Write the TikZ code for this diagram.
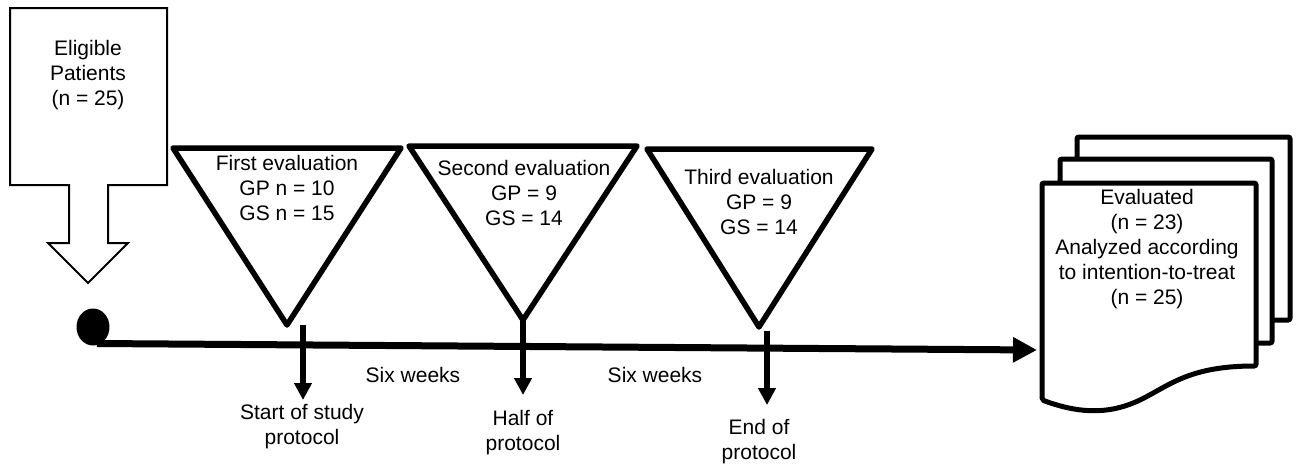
\documentclass[tikz,border=0pt]{standalone}
\usepackage{fontspec}
\setmainfont{Liberation Sans}
\usetikzlibrary{arrows.meta,shapes.geometric}
\begin{document}
\begin{tikzpicture}[x=1pt,y=-1pt,
  txt/.style={font=\fontsize{21}{25}\selectfont, align=center, inner sep=0pt},
  tri/.style={line width=5.5pt, line join=round},
  vline/.style={line width=5.5pt, -{Triangle[width=17pt,length=17pt]}},
  page/.style={line width=5pt, fill=white, rounded corners=2pt}]
\useasboundingbox (0,0) rectangle (1297,463);
% eligible block arrow
\draw[line width=2pt] (10,8) -- (167,8) -- (167,185) -- (108,185) -- (108,243) -- (128,243)
  -- (88,283) -- (48,243) -- (69,243) -- (69,185) -- (10,185) -- cycle;
\node[txt] (elig) at (88,75) {Eligible\\Patients\\(n = 25)};
% triangles
\draw[tri] (173,148) -- (401,148) -- (287,325) -- cycle;
\draw[tri] (409,146) -- (637,146) -- (523,320) -- cycle;
\draw[tri] (647,149) -- (872,149) -- (759,327) -- cycle;
\node[txt] (t1) at (287,188) {First evaluation\\GP n = 10\\GS n = 15};
\node[txt] (t2) at (524,193) {Second evaluation\\GP = 9\\GS = 14};
\node[txt] (t3) at (759,202) {Third evaluation\\GP = 9\\GS = 14};
\coordinate (a1s) at (303,325);
\coordinate (a2s) at (523,320);
\coordinate (a3s) at (767,331);
\coordinate (a1e) at (303,400);
\coordinate (a2e) at (523,395);
\coordinate (a3e) at (767,405);
% dot & timeline
\node[ellipse, fill=black, minimum width=33pt, minimum height=37pt, inner sep=0pt] (dot) at (93,327) {};
\coordinate (ts) at (97,343.5);
\coordinate (te) at (1037,350);
\draw[line width=7pt, -{Triangle[width=24pt,length=24pt]}] (ts) -- (te);
\draw[vline] (a1s) -- (a1e);
\draw[vline] (a2s) -- (a2e);
\draw[vline] (a3s) -- (a3e);
\node[txt] (sw1) at (413,375) {Six weeks};
\node[txt] (sw2) at (655,375) {Six weeks};
\node[txt] (l1) at (302,426.5) {Start of study\\protocol};
\node[txt] (l2) at (523,432.5) {Half of\\protocol};
\node[txt] (l3) at (759,441.5) {End of\\protocol};
% document stack
\draw[page] (1077,137) rectangle (1290,320);
\draw[page] (1060,159) rectangle (1272,343);
\draw[page] (1042,400) -- (1042,183) -- (1256,183) -- (1256,366)
  .. controls (1190,366) and (1170,385) .. (1140,400)
  .. controls (1105,416) and (1075,412) .. (1042,400) -- cycle;
\node[txt] (doc) at (1147,249) {Evaluated\\(n = 23)\\Analyzed according\\to intention-to-treat\\(n = 25)};
\end{tikzpicture}
\end{document}
